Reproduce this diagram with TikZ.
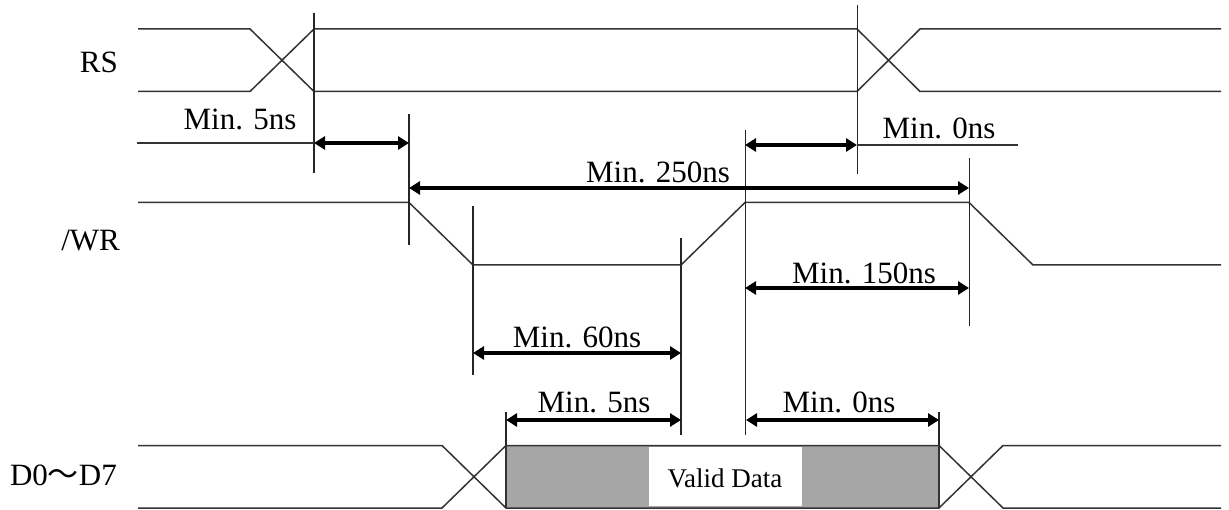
\documentclass[tikz,border=0pt]{standalone}
\usepackage{fontspec}
\setmainfont{Liberation Serif}
\newfontfamily\cjkwave{Noto Sans CJK JP}
\usetikzlibrary{arrows.meta}
\tikzset{
  sig/.style={line width=1.5pt,draw=black!80},
  tick/.style={line width=1.1pt,draw=black!85},
  dim/.style={line width=3.2pt,draw=black,{Triangle[length=11pt,width=13pt]}-{Triangle[length=11pt,width=13pt]}},
  lab/.style={anchor=base,inner sep=0pt,font=\fontsize{31}{31}\selectfont},
  vd/.style={anchor=base,inner sep=0pt,font=\fontsize{27}{27}\selectfont}
}
\begin{document}
\begin{tikzpicture}[x=1pt,y=-1pt]
\useasboundingbox (0,0) rectangle (1229,510);
% named time marks
\coordinate (a1) at (314,143); \coordinate (a2) at (409,143);
\coordinate (b1) at (409,188); \coordinate (b2) at (969,188);
\coordinate (c1) at (745,145); \coordinate (c2) at (857,145);
\coordinate (d1) at (745,288); \coordinate (d2) at (969,288);
\coordinate (e1) at (473,353); \coordinate (e2) at (681,353);
\coordinate (f1) at (506,420); \coordinate (f2) at (681,420);
\coordinate (g1) at (746,420); \coordinate (g2) at (939,420);
\coordinate (h0) at (137,143); \coordinate (h3) at (1018,145);
% data block
\fill[black!35] (506,445) rectangle (939,508);
\fill[white] (648.5,447) rectangle (801.5,506);
% RS
\draw[sig] (138,29) -- (250,29) -- (314,91.5) -- (857,91.5) -- (920,29) -- (1221,29);
\draw[sig] (138,91.5) -- (250,91.5) -- (314,29) -- (857,29) -- (920,91.5) -- (1221,91.5);
% /WR
\draw[sig] (138,202.5) -- (409,202.5) -- (473,265) -- (681,265) -- (745,202.5) -- (969,202.5) -- (1033,265) -- (1221,265);
% D0-D7
\draw[sig] (138,445.5) -- (442,445.5) -- (506,508) -- (939,508) -- (1003,445.5) -- (1221,445.5);
\draw[sig] (138,508) -- (442,508) -- (506,445.5) -- (939,445.5) -- (1003,508) -- (1221,508);
\draw[sig] (506,445.5) -- (506,508);
\draw[sig] (939,445.5) -- (939,508);
% vertical ticks
\draw[tick] (314,13) -- (314,173);
\draw[tick] (409,114) -- (409,245);
\draw[tick] (473,206) -- (473,375);
\draw[tick] (681,238) -- (681,435);
\draw[tick] (745.5,130) -- (745.5,435);
\draw[tick] (857.5,5) -- (857.5,174);
\draw[tick] (969.5,158) -- (969.5,326);
\draw[tick] (506,412) -- (506,445);
\draw[tick] (939,412) -- (939,445);
% extension lines
\draw[sig] (h0) -- (a1);
\draw[sig] (c2) -- (h3);
% dimension arrows
\draw[dim] (a1) -- (a2);
\draw[dim] (b1) -- (b2);
\draw[dim] (c1) -- (c2);
\draw[dim] (d1) -- (d2);
\draw[dim] (e1) -- (e2);
\draw[dim] (f1) -- (f2);
\draw[dim] (g1) -- (g2);
% labels
\node[lab] (t1) at (240,130) {Min. 5ns};
\node[lab] (t2) at (939,139) {Min. 0ns};
\node[lab] (t3) at (658,183) {Min. 250ns};
\node[lab] (t4) at (864,284) {Min. 150ns};
\node[lab] (t5) at (577,348) {Min. 60ns};
\node[lab] (t6) at (594,413) {Min. 5ns};
\node[lab] (t7) at (839,413) {Min. 0ns};
\node[vd] (t8) at (725,487) {Valid Data};
\node[lab,anchor=base east] (s1) at (118,73) {RS};
\node[lab,anchor=base east] (s2) at (120,251) {/WR};
\node[lab,anchor=base east] (s3) at (117,485) {D0{\cjkwave 〜}D7};
\end{tikzpicture}
\end{document}
